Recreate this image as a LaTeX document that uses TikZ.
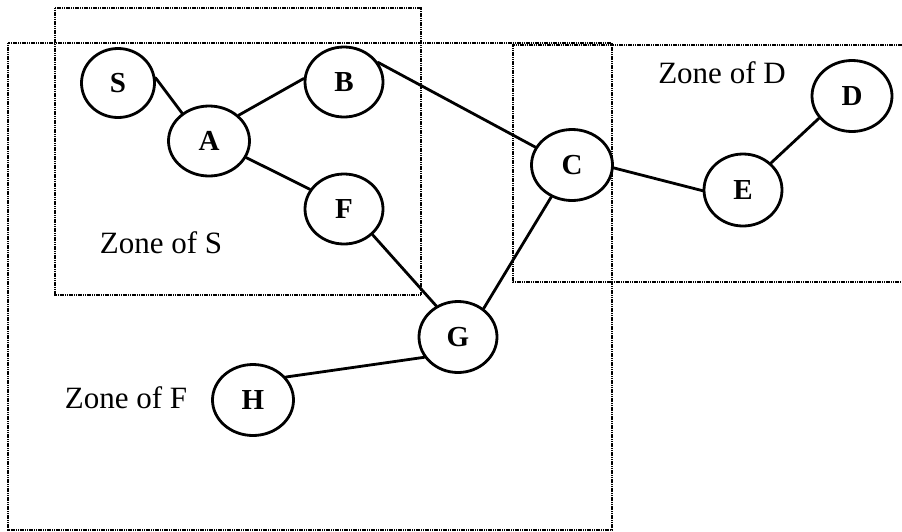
\documentclass[tikz,border=0pt]{standalone}
\usepackage{fontspec}
\setmainfont{Liberation Serif}
\usetikzlibrary{shapes.geometric}
\begin{document}
\begin{tikzpicture}[x=1pt,y=-1pt,
  vertex/.style={ellipse,draw,line width=2.8pt,inner sep=0pt,
    minimum width=78pt,minimum height=70pt,
    font=\fontsize{29}{29}\selectfont\bfseries},
  link/.style={line width=2.8pt,line cap=round},
  zone/.style={line width=2pt,dash pattern=on 1.2pt off 0.6pt},
  zonelabel/.style={inner sep=0pt,font=\fontsize{31}{31}\selectfont}]
\useasboundingbox (0,0) rectangle (902,531);

% zones
\draw[zone] (55,8) rectangle (421,295);
\draw[zone] (8,43) rectangle (612,530);
\draw[zone] (906,45) -- (513,45) -- (513,282) -- (906,282);

\node[zonelabel] (zs) at (161,243) {Zone of S};
\node[zonelabel] (zd) at (722,73) {Zone of D};
\node[zonelabel] (zf) at (126,398) {Zone of F};

% nodes
\node[vertex,minimum width=73pt,minimum height=69pt] (S) at (118,83) {S};
\node[vertex,minimum width=81pt] (A) at (209,141) {A};
\node[vertex] (B) at (344,82) {B};
\node[vertex] (F) at (344,209) {F};
\node[vertex,minimum width=81pt,minimum height=71pt] (C) at (572,165) {C};
\node[vertex,minimum height=72pt] (E) at (743,190) {E};
\node[vertex,minimum width=80pt,minimum height=71pt] (D) at (852,96) {D};
\node[vertex,minimum height=71pt] (G) at (458,337) {G};
\node[vertex,minimum width=81pt,minimum height=71pt] (H) at (253,400) {H};

% connections
\draw[link] (S.8) -- (A.134);
\draw[link] (A.41) -- (B.175);
\draw[link] (A.-24) -- (F.150);
\draw[link] (B.30) -- (C.154);
\draw[link] (F.-42) -- (G.125);
\draw[link] (G.48) -- (C.237);
\draw[link] (C.-4) -- (E.181);
\draw[link] (E.44) -- (D.214);
\draw[link] (G.211) -- (H.35);
\end{tikzpicture}
\end{document}
